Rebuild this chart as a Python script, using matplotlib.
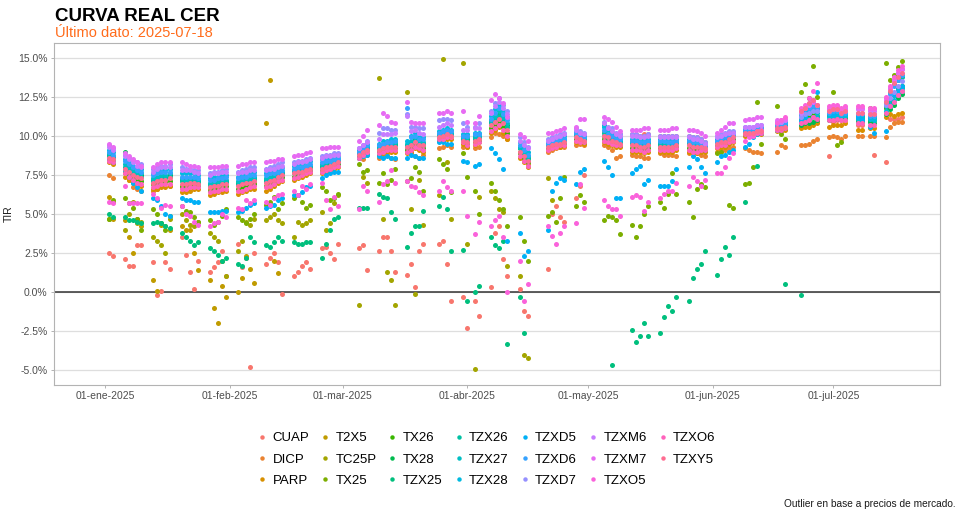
"""
Curva real CER - TIR diaria por especie (enero a julio 2025)
"""

import numpy as np
import pandas as pd
import matplotlib
matplotlib.use("Agg")
import matplotlib.pyplot as plt
import matplotlib.dates as mdates
from matplotlib.lines import Line2D
from matplotlib.ticker import FuncFormatter

plt.rcParams['font.family'] = ['Liberation Sans', 'DejaVu Sans']

# ===================== fechas (ruedas operadas, día del mes) =====================
ENE = [2, 3, 6, 7, 8, 9, 10, 13, 14, 15, 16, 17, 20, 21, 22, 23, 24, 27, 28, 29, 30, 31]
FEB = [3, 4, 5, 6, 7, 10, 11, 12, 13, 14, 17, 18, 19, 20, 21, 24, 25, 26, 27, 28]
MAR = [5, 6, 7, 10, 11, 12, 13, 14, 17, 18, 19, 20, 21, 25, 26, 27, 28, 31]
ABR = [1, 3, 4, 7, 8, 9, 10, 11, 14, 15, 16, 21, 22, 23, 24, 25, 28, 29, 30]
MAY = [5, 6, 7, 8, 9, 12, 13, 14, 15, 16, 19, 20, 21, 22, 23, 26, 27, 28, 29, 30]
JUN = [2, 3, 4, 5, 6, 9, 10, 11, 12, 13, 17, 18, 19, 23, 24, 25, 26, 27, 30]
JUL = [1, 2, 3, 4, 7, 8, 10, 11, 14, 15, 16, 17, 18]

# ruedas por semana (para separar los datos con "|")
RUEDAS_SEMANA = [2, 5, 5, 5, 5, 5, 5, 5, 5, 3, 5, 5, 4, 4, 5, 3, 5, 3, 5, 5, 5, 5, 5, 5, 3, 5, 5, 4, 5]

MESES_ES = ['ene', 'feb', 'mar', 'abr', 'may', 'jun', 'jul', 'ago', 'sep', 'oct', 'nov', 'dic']

# ===================== TIR (%) por especie, semana a semana =====================
CUAP = """2.5 2.3 | 2.1 1.7 1.7 3.0 3.0 | 1.9 -0.2 0.1 1.9 1.5 | 3.5 2.4 1.3 0.2 2.0 | 1.3 1.6 1.9 2.6 1.0 |
3.1 1.6 2.2 -4.8 2.5 | 1.8 2.2 2.5 1.9 -0.1 | 1.0 1.3 1.7 1.9 1.5 | 2.8 2.9 2.5 2.1 3.1 | 2.8 3.0 1.4 |
2.6 3.5 3.5 2.6 1.3 | 1.1 1.8 0.3 2.6 3.1 | 3.1 3.3 1.8 -0.6 | -0.3 -2.3 -0.6 -1.5 | 0.3 3.8 4.2 2.1 1.0 |
0.2 -1.2 -1.5 | 1.5 5.0 5.5 4.8 4.5 | 6.0 6.8 7.5 | 10.3 10.2 10.2 10.1 10.1 | 10.1 10.1 10.0 10.1 10.1 |
10.0 10.0 10.0 10.0 10.0 | 10.0 9.9 9.9 9.8 9.6 | 9.9 10.0 10.1 10.2 10.2 | 10.5 10.5 10.5 10.6 10.6 | 10.7 10.7 10.8 |
10.6 10.7 10.7 10.8 10.9 | 8.7 10.9 11.0 11.0 11.0 | 10.7 10.7 10.6 8.8 | 8.3 11.1 11.1 11.1 11.2"""

DICP = """7.5 7.3 | 7.6 7.2 6.7 6.6 6.5 | 6.5 6.6 6.9 7.0 6.8 | 6.7 6.8 6.9 7.0 7.0 | 6.6 6.6 6.8 6.9 7.0 |
6.9 7.0 6.9 6.9 7.0 | 7.1 7.1 7.2 7.4 7.5 | 7.4 7.6 7.6 7.7 7.8 | 7.9 8.0 8.1 8.2 8.3 | 8.6 8.5 8.8 |
8.6 8.7 8.8 8.6 8.5 | 9.1 8.9 8.7 8.6 8.8 | 9.2 9.3 9.4 9.3 | 9.3 9.3 9.2 9.3 | 9.9 10.2 10.1 10.0 9.8 |
9.0 8.5 8.2 | 9.0 9.1 9.2 9.3 9.3 | 9.4 9.5 9.4 | 9.4 9.3 9.1 8.6 8.7 | 8.8 8.7 8.7 8.6 8.6 |
8.9 8.8 8.8 8.8 8.7 | 8.9 9.0 8.9 8.8 8.7 | 9.0 9.1 9.1 9.2 9.3 | 9.2 9.1 9.0 9.0 8.9 | 9.0 9.4 9.3 |
9.4 9.4 9.5 9.7 9.8 | 9.9 10.0 9.9 9.8 10.0 | 10.0 10.0 10.0 10.0 | 9.9 10.6 10.8 10.9 10.9"""

PARP = """8.3 8.2 | 7.4 7.2 7.0 6.9 6.8 | 6.6 6.6 6.7 6.7 6.8 | 6.4 6.4 6.5 6.6 6.6 | 6.2 6.3 6.4 6.4 6.5 |
6.3 6.4 6.5 6.6 6.6 | 6.5 6.6 6.8 7.0 7.1 | 7.2 7.3 7.4 7.5 7.6 | 7.6 7.7 7.8 7.9 8.0 | 8.6 8.8 8.9 |
8.8 8.9 9.0 9.0 9.0 | 8.9 9.0 9.2 9.1 9.0 | 9.7 9.7 9.8 9.8 | 9.5 9.3 9.4 9.6 | 10.2 10.4 10.6 10.2 9.8 |
8.6 8.3 8.0 | 9.1 9.2 9.3 9.3 9.4 | 9.6 9.6 9.5 | 9.6 9.5 9.4 9.3 9.3 | 9.0 9.0 9.0 8.9 9.0 |
9.0 9.0 9.0 9.0 9.1 | 9.0 8.9 8.9 9.0 9.0 | 9.2 9.3 9.3 9.5 9.6 | 10.0 10.0 10.0 10.1 10.1 | 10.3 10.3 10.4 |
10.5 10.6 10.6 10.7 10.8 | 10.6 10.7 10.7 10.7 10.8 | 10.4 10.4 10.5 10.5 | 11.2 11.4 11.3 11.4 11.5"""

# vence en febrero
T2X5 = """6.1 4.7 | 4.6 3.5 2.5 4.4 4.2 | 0.8 0.1 4.3 4.2 4.0 | 4.2 4.0 4.0 2.5 1.4 | 0.8 -1.0 -2.0 0.4 -0.3 |
0.0 0.9 2.3 1.5 0.6 | 10.8 13.6 2.0 1.2 na"""

# vence en abril
TC25P = """4.7 5.8 | 4.0 5.0 5.8 4.7 4.5 | 3.5 3.3 3.0 2.5 4.7 | 5.0 4.6 4.3 4.2 4.5 | 3.8 3.5 3.3 2.0 1.0 |
2.6 3.3 4.5 4.3 4.7 | 4.6 4.8 5.0 4.6 4.4 | 3.5 4.5 4.3 4.4 4.6 | 5.1 4.0 4.4 5.7 6.2 | -0.8 7.4 7.0 |
13.7 4.7 1.3 0.8 -0.8 | 12.8 5.3 -0.1 7.2 4.3 | 6.2 14.9 8.3 4.7 | 14.7 3.1 -4.9 6.1 | 6.5 6.0 5.3 5.1 1.7 |
1.0 -4.0 -4.2 | 7.3 5.9 na na na"""

TX25 = """4.7 5.9 | 6.0 5.7 5.4 4.7 4.0 | 5.3 5.0 4.4 4.0 4.9 | 5.5 5.2 5.1 4.8 4.5 | 4.6 4.3 4.5 4.9 5.3 |
4.8 4.6 4.4 4.7 5.0 | 5.6 5.8 6.1 5.3 5.7 | 6.0 6.2 5.8 5.4 5.6 | 6.7 6.5 5.9 6.0 6.3 | 8.2 7.7 7.8 |
7.0 7.6 6.9 7.2 7.9 | 7.1 7.3 8.0 7.7 6.5 | 8.5 8.2 7.9 6.4 | 8.9 7.4 6.5 5.0 | 7.0 6.5 5.9 5.3 4.2 |
4.8 3.3 2.0 | 4.9 5.1 4.5 6.0 7.4 | 5.5 6.2 5.8 | 4.6 4.9 4.8 4.6 3.7 | 4.3 3.5 4.2 5.0 5.5 |
5.8 5.4 6.3 7.6 6.3 | 5.8 4.8 6.6 6.9 6.7 | 8.9 9.0 9.4 5.6 5.4 | 6.9 7.0 8.0 12.2 9.5 | 11.9 10.1 9.8 |
12.8 13.3 12.4 14.5 12.5 | 11.6 12.8 9.4 9.6 11.2 | 11.0 11.3 11.8 11.2 | 14.7 13.6 13.9 14.4 14.8"""

TX26 = """8.5 8.4 | 7.7 7.5 7.3 7.2 7.1 | 6.9 7.0 7.0 7.1 7.1 | 6.8 6.7 6.8 6.9 6.8 | 6.5 6.6 6.7 6.7 6.8 |
6.6 6.7 6.8 6.9 6.9 | 6.8 6.9 7.1 7.3 7.4 | 7.4 7.5 7.6 7.7 7.8 | 7.8 7.9 8.0 8.1 8.2 | 8.7 8.9 9.1 |
9.0 9.1 9.2 9.2 9.2 | 9.1 9.3 9.4 9.3 9.2 | 9.8 9.9 10.0 10.0 | 9.7 9.5 9.6 9.7 | 10.5 10.7 10.9 10.6 10.2 |
8.9 8.6 8.3 | 9.2 9.3 9.4 9.4 9.5 | 9.8 9.7 9.6 | 9.8 9.7 9.6 9.5 9.4 | 9.2 9.2 9.2 9.1 9.2 |
9.2 9.2 9.2 9.2 9.3 | 9.2 9.1 9.1 9.2 9.1 | 9.4 9.5 9.5 9.7 9.8 | 10.1 10.1 10.1 10.2 10.2 | 10.4 10.4 10.5 |
11.0 11.2 11.3 11.5 11.3 | 11.3 11.3 11.4 11.2 11.3 | 11.1 11.1 11.0 11.0 | 11.8 12.2 12.6 13.0 13.2"""

TX28 = """8.8 8.6 | 9.0 8.1 7.7 7.6 7.5 | 7.2 7.3 7.4 7.4 7.5 | 7.2 7.1 7.2 7.2 7.1 | 6.9 7.0 7.0 7.1 7.1 |
7.0 7.1 7.2 7.2 7.3 | 7.2 7.3 7.4 7.5 7.6 | 7.7 7.8 7.8 7.9 8.0 | 8.1 8.2 8.2 8.3 8.4 | 8.9 9.1 9.3 |
9.2 9.3 9.4 9.4 9.5 | 9.4 9.6 9.8 9.6 9.5 | 10.0 10.1 10.2 10.1 | 9.8 9.8 9.9 9.9 | 10.9 11.2 11.4 11.1 10.7 |
9.2 8.9 8.6 | 9.4 9.5 9.6 9.6 9.7 | 10.0 9.9 9.8 | 10.0 9.8 9.7 9.6 9.6 | 9.5 9.5 9.4 9.4 9.5 |
9.5 9.5 9.4 9.4 9.5 | 9.5 9.4 9.4 9.4 9.3 | 9.5 9.6 9.7 9.8 9.9 | 10.3 10.3 10.3 10.4 10.4 | 10.6 10.6 10.7 |
10.7 10.8 10.8 10.9 11.0 | 11.0 11.1 11.1 11.1 11.1 | 10.9 10.9 10.9 10.8 | 11.4 11.7 12.0 12.4 12.7"""

# vence en junio
TZX25 = """5.0 4.8 | 4.8 4.6 4.6 4.5 4.4 | 4.4 4.5 4.4 4.2 4.1 | 3.8 3.5 3.3 3.0 3.2 | 2.8 2.6 2.4 2.0 2.2 |
1.8 1.7 2.2 3.5 3.2 | 3.0 2.9 3.2 3.5 3.3 | 3.2 3.1 3.1 3.2 3.2 | 2.2 3.1 4.0 4.7 4.8 | 5.4 5.4 5.4 |
6.3 6.1 6.0 5.1 4.7 | 2.9 3.8 4.2 4.2 5.2 | 5.5 6.1 5.3 2.6 | 2.7 -0.6 0.0 0.4 | 3.5 3.0 2.8 3.3 -3.3 |
-0.3 -2.6 na | na na na na na | na na na | na na -4.7 na na | -2.4 -3.2 -2.8 -2.0 -2.8 |
-2.6 -1.6 -0.9 -1.2 -0.3 | -0.6 0.9 1.5 1.8 2.6 | 1.1 2.1 2.9 2.4 3.5 | 5.8 na na 8.1 na | na na 0.5 |
-0.2 na na na na"""

TZX26 = """8.7 8.6 | 8.0 7.8 7.6 7.5 7.4 | 7.1 7.2 7.3 7.3 7.4 | 7.1 7.0 7.1 7.1 7.0 | 6.8 6.9 6.9 7.0 7.0 |
6.9 7.0 7.1 7.1 7.2 | 7.1 7.2 7.3 7.4 7.5 | 7.6 7.7 7.7 7.8 7.9 | 8.0 8.1 8.1 8.2 8.3 | 8.8 9.0 9.2 |
9.2 9.3 9.4 9.3 9.4 | 9.3 9.5 9.7 9.5 9.4 | 10.0 10.0 10.1 10.1 | 9.8 9.7 9.8 9.9 | 10.8 11.1 11.3 11.0 10.6 |
9.2 8.8 8.5 | 9.4 9.5 9.6 9.6 9.7 | 10.0 9.9 9.8 | 10.2 10.0 9.8 9.6 9.6 | 9.5 9.5 9.4 9.4 9.4 |
9.4 9.4 9.4 9.4 9.5 | 9.5 9.4 9.4 9.3 9.3 | 9.5 9.6 9.7 9.8 9.9 | 10.3 10.3 10.3 10.4 10.4 | 10.6 10.6 10.7 |
11.4 11.6 11.9 12.0 11.8 | 11.5 11.5 11.6 11.4 11.5 | 11.3 11.3 11.2 11.2 | 12.2 12.8 13.3 13.6 13.8"""

TZX27 = """8.9 8.7 | 8.2 8.0 7.8 7.7 7.6 | 7.3 7.4 7.5 7.5 7.6 | 7.3 7.2 7.3 7.3 7.2 | 7.0 7.1 7.1 7.2 7.2 |
7.1 7.2 7.3 7.3 7.4 | 7.3 7.4 7.5 7.6 7.7 | 7.8 7.9 7.9 8.0 8.1 | 8.2 8.3 8.3 8.4 8.5 | 8.9 9.1 9.3 |
9.3 9.4 9.5 9.5 9.6 | 9.5 9.7 9.9 9.7 9.6 | 10.1 10.2 10.3 10.2 | 9.9 9.9 10.0 10.0 | 11.0 11.3 11.6 11.2 10.8 |
9.3 9.0 8.7 | 9.5 9.6 9.7 9.7 9.8 | 10.1 10.0 9.9 | 10.7 10.4 10.1 9.8 9.7 | 9.6 9.6 9.5 9.5 9.6 |
9.6 9.6 9.5 9.5 9.6 | 9.6 9.5 9.5 9.4 9.3 | 9.6 9.7 9.8 9.9 10.0 | 10.3 10.3 10.3 10.4 10.4 | 10.6 10.6 10.7 |
11.2 11.3 11.5 11.7 11.5 | 11.4 11.4 11.5 11.3 11.4 | 11.2 11.2 11.2 11.1 | 11.9 12.3 12.7 13.0 13.1"""

TZX28 = """9.1 9.0 | 8.5 8.3 8.1 8.0 7.9 | 7.6 7.7 7.8 7.8 7.9 | 7.6 7.6 7.6 7.6 7.5 | 7.3 7.4 7.4 7.5 7.5 |
7.4 7.5 7.6 7.7 7.7 | 7.6 7.7 7.8 7.9 8.0 | 8.1 8.2 8.2 8.3 8.4 | 8.5 8.6 8.6 8.7 8.7 | 9.1 9.3 9.5 |
9.5 9.7 9.7 9.8 9.8 | 9.7 10.0 10.2 9.9 9.9 | 10.3 10.4 10.5 10.4 | 10.1 10.1 10.2 10.2 | 11.3 11.7 12.0 11.6 11.2 |
9.6 9.3 9.0 | 9.6 9.7 9.8 9.9 10.0 | 10.3 10.1 10.0 | 10.6 10.3 10.2 10.0 9.9 | 9.8 9.8 9.7 9.8 9.8 |
9.8 9.8 9.8 9.8 9.8 | 9.8 9.7 9.7 9.6 9.5 | 9.8 9.9 10.0 10.1 10.2 | 10.5 10.5 10.5 10.6 10.6 | 10.8 10.8 10.9 |
10.9 11.0 11.1 11.2 11.2 | 11.2 11.3 11.3 11.3 11.3 | 11.1 11.1 11.1 11.0 | 11.6 11.9 12.3 12.6 12.9"""

TZXD5 = """8.5 8.3 | 7.8 7.4 7.0 6.7 6.5 | 6.0 5.9 5.5 5.0 4.9 | 6.0 5.9 5.9 5.8 5.8 | 5.1 5.1 5.1 5.2 5.2 |
5.1 5.2 5.4 5.6 5.7 | 5.4 5.5 5.6 5.9 6.0 | 6.2 6.2 6.4 6.7 6.8 | 7.3 7.5 7.6 7.7 7.7 | 8.6 8.7 8.8 |
8.7 8.6 8.7 8.6 8.6 | 8.6 8.8 8.7 8.6 8.6 | 9.6 9.6 9.5 9.5 | 8.4 8.3 8.1 8.2 | 9.2 8.9 8.5 7.9 3.3 |
3.8 2.3 2.6 | 4.0 6.5 7.0 7.3 7.2 | 6.9 7.7 7.9 | 8.4 8.0 7.5 6.0 6.0 | 7.6 7.9 8.1 6.9 7.2 |
6.8 6.8 6.8 7.1 7.9 | 8.0 8.7 8.5 8.0 7.6 | 8.3 8.7 8.8 9.0 9.1 | 9.3 9.5 9.9 10.1 10.2 | 10.4 10.5 10.6 |
11.0 11.3 11.6 12.1 12.8 | 11.5 11.4 11.6 11.5 11.6 | 11.2 11.0 10.6 10.2 | 10.3 12.0 12.6 12.9 13.2"""

TZXD6 = """9.0 8.8 | 8.4 8.2 8.0 7.8 7.7 | 7.5 7.6 7.7 7.7 7.7 | 7.4 7.4 7.4 7.4 7.3 | 7.2 7.2 7.3 7.3 7.4 |
7.3 7.4 7.4 7.5 7.5 | 7.5 7.6 7.6 7.7 7.8 | 7.9 8.0 8.0 8.1 8.2 | 8.3 8.4 8.4 8.5 8.5 | 9.0 9.2 9.4 |
9.4 9.5 9.6 9.6 9.7 | 11.8 9.9 10.0 9.8 9.8 | 10.2 10.3 10.4 10.3 | 10.0 10.0 10.1 10.1 | 11.1 11.5 11.8 11.4 11.0 |
9.4 9.1 8.8 | 9.5 9.6 9.7 9.8 9.8 | 10.2 10.0 9.9 | 10.4 10.1 10.0 9.8 9.8 | 9.7 9.7 9.6 9.6 9.7 |
9.7 9.7 9.6 9.6 9.7 | 9.7 9.6 9.6 9.5 9.4 | 9.7 9.8 9.9 10.0 10.1 | 10.4 10.4 10.4 10.5 10.5 | 10.7 10.7 10.8 |
11.3 11.5 11.8 11.9 11.7 | 11.5 11.6 11.6 11.4 11.5 | 11.4 11.4 11.3 11.3 | 12.1 12.7 13.2 13.6 13.9"""

TZXD7 = """9.4 9.2 | 8.8 8.6 8.4 8.3 8.2 | 7.9 8.0 8.1 8.1 8.2 | 8.0 7.9 7.9 7.8 7.8 | 7.6 7.7 7.7 7.8 7.9 |
7.7 7.8 7.9 8.0 8.0 | 7.9 8.0 8.1 8.2 8.3 | 8.3 8.4 8.4 8.5 8.6 | 8.7 8.8 8.8 8.9 8.9 | 9.2 9.4 9.7 |
10.2 10.5 10.5 10.4 10.4 | 11.4 10.6 10.6 10.5 10.5 | 11.0 11.1 11.1 11.0 | 10.8 10.6 10.6 10.8 | 11.6 12.1 12.4 12.0 11.6 |
9.9 9.6 9.3 | 9.8 9.9 10.0 10.1 10.2 | 10.5 10.3 10.2 | 10.9 10.6 10.5 10.2 10.1 | 10.1 10.1 10.0 10.0 10.1 |
10.0 10.0 10.0 10.0 10.0 | 10.0 9.9 9.9 9.8 9.6 | 10.0 10.1 10.2 10.3 10.3 | 10.6 10.6 10.6 10.7 10.7 | 10.9 10.9 11.0 |
11.2 11.4 11.5 11.6 11.6 | 11.6 11.7 11.7 11.6 11.6 | 11.5 11.5 11.4 11.4 | 12.0 12.4 12.8 13.2 13.5"""

TZXM6 = """9.3 9.1 | 8.7 8.5 8.3 8.1 8.0 | 7.7 7.9 8.0 8.0 8.0 | 7.8 7.8 7.8 7.7 7.6 | 7.5 7.6 7.6 7.7 7.7 |
7.6 7.7 7.7 7.8 7.8 | 7.8 7.9 7.9 8.0 8.1 | 8.2 8.3 8.3 8.4 8.5 | 8.6 8.7 8.7 8.8 8.8 | 9.2 9.4 9.6 |
9.8 10.1 10.1 10.1 10.2 | 11.3 10.3 10.4 10.2 10.1 | 10.6 10.7 10.8 10.7 | 10.4 10.4 10.5 10.5 | 11.5 11.9 12.2 11.8 11.4 |
9.7 9.4 9.2 | 9.7 9.8 9.9 10.0 10.1 | 10.4 10.2 10.1 | 10.8 10.5 10.3 10.1 10.0 | 10.0 10.0 9.9 9.9 10.0 |
9.9 9.9 9.9 9.9 9.9 | 9.9 9.8 9.8 9.7 9.5 | 9.9 10.0 10.1 10.2 10.2 | 10.6 10.6 10.6 10.7 10.7 | 10.9 10.9 11.0 |
11.5 11.8 12.1 12.3 12.0 | 11.7 11.8 11.8 11.6 11.7 | 11.7 11.7 11.6 11.6 | 12.4 13.1 13.6 14.0 14.3"""

TZXM7 = """9.5 9.3 | 8.9 8.7 8.5 8.3 8.1 | 8.0 8.2 8.3 8.3 8.3 | 8.3 8.2 8.1 8.1 8.0 | 8.0 8.0 8.0 8.1 8.1 |
8.1 8.2 8.2 8.3 8.3 | 8.3 8.4 8.4 8.5 8.5 | 8.7 8.8 8.8 8.9 9.0 | 9.2 9.2 9.3 9.3 9.3 | 9.7 10.0 10.4 |
10.7 11.5 11.3 10.9 10.8 | 12.2 10.9 10.8 10.8 10.8 | 11.5 11.5 11.6 11.5 | 11.6 10.9 10.8 11.3 | 12.3 12.7 12.4 12.1 11.2 |
10.1 9.9 9.7 | 10.2 10.2 10.3 10.4 10.5 | 10.6 11.1 11.1 | 11.2 11.1 10.9 10.6 10.3 | 10.4 10.4 10.4 10.5 10.5 |
10.4 10.4 10.4 10.5 10.5 | 10.4 10.4 10.3 10.2 10.0 | 10.2 10.4 10.6 10.8 10.8 | 11.0 11.1 11.1 11.2 11.2 | 11.0 11.0 11.1 |
11.6 11.8 12.0 12.2 12.0 | 11.8 11.9 11.9 11.7 11.8 | 11.8 11.8 11.7 11.7 | 12.3 13.0 13.6 14.0 14.3"""

TZXO5 = """5.8 5.7 | 6.8 5.7 5.7 5.7 5.7 | 6.3 6.0 5.4 5.6 5.5 | 5.5 5.0 4.9 4.5 4.3 | 4.2 4.4 4.5 5.0 4.8 |
5.4 5.3 5.9 5.7 5.9 | 5.8 5.6 6.0 6.2 6.3 | 6.5 6.2 6.8 6.6 6.9 | 7.0 5.9 5.3 6.1 5.5 | 5.3 6.8 6.5 |
5.8 6.9 7.1 7.8 7.0 | 7.1 6.8 6.7 6.4 6.2 | 6.5 7.1 6.7 6.5 | 6.5 4.9 3.7 4.5 | 4.2 4.6 4.9 3.5 0.0 |
2.0 -0.6 0.5 | 4.2 3.6 3.1 3.8 4.2 | 4.4 6.9 5.4 | 5.9 5.5 5.3 5.3 4.9 | 6.1 6.2 6.1 5.2 5.8 |
6.0 6.3 6.5 6.5 7.0 | 6.8 7.4 7.1 6.8 7.2 | 7.6 7.6 8.0 8.6 8.9 | 9.7 9.9 10.0 10.3 10.4 | 10.8 11.0 11.2 |
11.8 12.0 12.4 12.9 13.4 | 11.9 12.0 12.0 11.8 11.9 | 11.9 11.9 11.8 11.8 | 12.5 13.2 13.8 14.2 14.5"""

TZXO6 = """8.4 8.3 | 7.6 7.4 7.2 7.0 6.9 | 6.7 6.8 6.9 6.9 6.9 | 6.6 6.6 6.7 6.7 6.7 | 6.4 6.5 6.5 6.6 6.6 |
6.5 6.5 6.6 6.7 6.8 | 6.7 6.8 6.9 7.1 7.2 | 7.3 7.4 7.5 7.6 7.7 | 7.7 7.8 7.9 8.0 8.1 | 8.6 8.8 9.0 |
8.9 9.0 9.1 9.1 9.1 | 9.0 9.1 9.3 9.2 9.1 | 9.8 9.8 9.9 9.9 | 9.6 9.4 9.5 9.6 | 10.3 10.5 10.7 10.4 10.0 |
8.7 8.4 8.1 | 9.1 9.2 9.3 9.4 9.4 | 9.7 9.6 9.6 | 9.7 9.6 9.5 9.4 9.4 | 9.1 9.1 9.1 9.0 9.1 |
9.1 9.1 9.1 9.1 9.2 | 9.1 9.0 9.0 9.1 9.1 | 9.3 9.4 9.4 9.6 9.7 | 10.1 10.1 10.1 10.2 10.2 | 10.4 10.4 10.5 |
10.8 10.9 11.0 11.2 11.1 | 11.0 11.0 11.1 11.0 11.0 | 10.8 10.8 10.7 10.7 | 11.5 11.9 12.2 12.6 12.9"""

TZXY5 = """8.6 8.5 | 7.9 7.7 7.5 7.4 7.3 | 7.0 7.1 7.2 7.2 7.3 | 6.9 6.9 7.0 7.0 6.9 | 6.7 6.8 6.8 6.9 6.9 |
6.8 6.9 7.0 7.0 7.1 | 7.0 7.1 7.2 7.4 7.5 | 7.6 7.7 7.7 7.8 7.9 | 7.9 8.0 8.1 8.2 8.3 | 8.8 9.0 9.1 |
9.1 9.2 9.3 9.3 9.3 | 9.3 9.4 9.6 9.4 9.4 | 9.9 10.0 10.1 10.0 | 9.7 9.6 9.7 9.8 | 10.7 10.9 11.1 10.8 10.4 |
9.0 8.7 8.4 | 9.3 9.4 9.5 9.5 9.6 | 9.9 9.8 9.7 | 10.0 9.9 9.7 9.6 9.5 | 9.4 9.4 9.3 9.3 9.4 |
9.3 9.3 9.3 9.3 9.4 | 9.4 9.3 9.3 9.3 9.2 | 9.5 9.6 9.6 9.8 9.9 | 10.2 10.2 10.2 10.3 10.3 | 10.5 10.5 10.6 |
11.6 11.8 12.1 12.3 12.0 | 11.6 11.7 11.7 11.5 11.6 | 11.5 11.5 11.4 11.4 | 12.2 12.9 13.4 13.8 14.0"""

ESPECIES = ['CUAP', 'DICP', 'PARP', 'T2X5', 'TC25P', 'TX25', 'TX26', 'TX28', 'TZX25', 'TZX26',
            'TZX27', 'TZX28', 'TZXD5', 'TZXD6', 'TZXD7', 'TZXM6', 'TZXM7', 'TZXO5', 'TZXO6', 'TZXY5']
DATOS = [CUAP, DICP, PARP, T2X5, TC25P, TX25, TX26, TX28, TZX25, TZX26,
         TZX27, TZX28, TZXD5, TZXD6, TZXD7, TZXM6, TZXM7, TZXO5, TZXO6, TZXY5]
# paleta hue de ggplot para 20 niveles
COLORES = ['#F8766D', '#EA8331', '#D89000', '#C09B00', '#A3A500', '#7CAE00', '#39B600', '#00BB4E',
           '#00BF7D', '#00C1A3', '#00BFC4', '#00BAE0', '#00B0F6', '#35A2FF', '#9590FF', '#C77CFF',
           '#E76BF3', '#FA62DB', '#FF62BC', '#FF6C91']


def fechas():
    out = []
    for mes, dias in enumerate([ENE, FEB, MAR, ABR, MAY, JUN, JUL], start=1):
        out += [pd.Timestamp(2025, mes, d) for d in dias]
    return pd.DatetimeIndex(out)


def serie(nombre, txt):
    semanas = txt.split('|')
    vals = []
    for i, n in enumerate(RUEDAS_SEMANA):
        tok = semanas[i].split() if i < len(semanas) else []
        if tok and len(tok) != n:
            print(f"  aviso: {nombre} semana {i + 1} tiene {len(tok)} valores (esperaba {n})")
        tok = (tok + ['na'] * n)[:n]
        vals += [np.nan if t == 'na' else float(t) for t in tok]
    return np.array(vals)


def fmt_fecha(x, pos=None):
    d = mdates.num2date(x)
    return f"{d.day:02d}-{MESES_ES[d.month - 1]}-{d.year}"


def main():
    f = fechas()
    xs = mdates.date2num(f.to_pydatetime())

    fig = plt.figure(figsize=(9.6, 5.14), dpi=100)
    ax = fig.add_axes([0.05625, 0.251, 0.9229, 0.6653])

    for nombre, txt, color in zip(ESPECIES, DATOS, COLORES):
        y = serie(nombre, txt)
        ok = ~np.isnan(y)
        ax.scatter(xs[ok], y[ok], s=13, color=color, linewidths=0, zorder=3)

    ax.axhline(0, color='#333333', lw=1.1, zorder=2)

    ax.set_xlim(mdates.date2num(pd.Timestamp('2024-12-19 07:00')),
                mdates.date2num(pd.Timestamp('2025-07-27 12:00')))
    ax.set_ylim(-5.95, 15.95)

    ax.set_yticks(np.arange(-5, 15.01, 2.5))
    ax.yaxis.set_major_formatter(FuncFormatter(lambda v, p: f"{v:.1f}%"))
    ticks_x = [mdates.date2num(pd.Timestamp(2025, m, 1)) for m in range(1, 8)]
    ax.set_xticks(ticks_x)
    ax.xaxis.set_major_formatter(FuncFormatter(fmt_fecha))

    ax.yaxis.grid(True, color='#DEDEDE', lw=0.9)
    ax.xaxis.grid(False)
    ax.set_axisbelow(True)
    for s in ax.spines.values():
        s.set_color('#B3B3B3')
        s.set_linewidth(0.8)
    ax.tick_params(axis='both', length=2.5, width=0.7, color='#B3B3B3',
                   labelsize=7.5, labelcolor='#4D4D4D', pad=2)
    ax.set_ylabel('TIR', fontsize=7.5, color='#1A1A1A', labelpad=3)

    # títulos
    fig.text(0.0573, 0.9597, 'CURVA REAL CER', fontsize=13.5, weight='bold', va='baseline')
    fig.text(0.0573, 0.9274, 'Último dato: 2025-07-18', fontsize=10.5, color='#FF6B1A', va='baseline')
    fig.text(0.995, 0.0136, 'Outlier en base a precios de mercado.', fontsize=7.3,
             ha='right', va='baseline', color='#1A1A1A')

    # leyenda abajo, 3 filas
    handles = [Line2D([], [], marker='o', linestyle='none', markersize=3.2,
                      markerfacecolor=c, markeredgewidth=0) for c in COLORES]
    fig.legend(handles, ESPECIES, ncol=7, loc='center', bbox_to_anchor=(0.506, 0.106),
               frameon=False, fontsize=9.5, handletextpad=0.35, columnspacing=0.75,
               labelspacing=0.7, handlelength=0.9)

    fig.savefig('out.png', dpi=100)


if __name__ == "__main__":
    main()
